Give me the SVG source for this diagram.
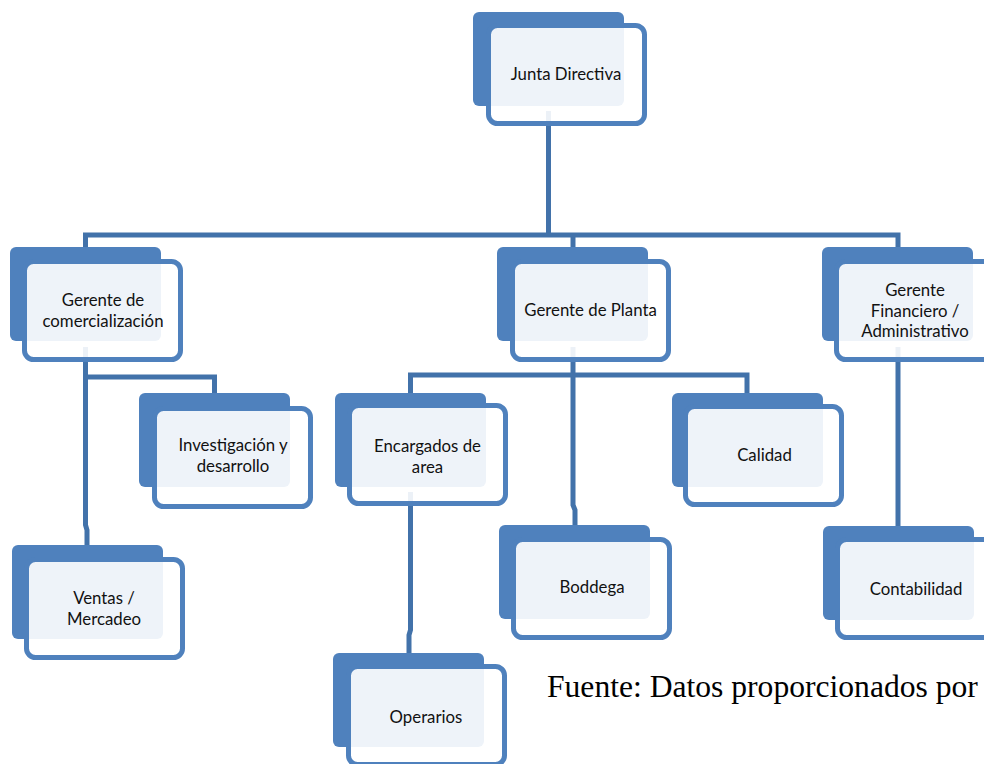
<svg xmlns="http://www.w3.org/2000/svg" width="984" height="764" viewBox="0 0 984 764">
<style>
.back{fill:#4F81BD}
.front{fill:#ffffff;fill-opacity:0.9;stroke:#4F81BD;stroke-width:5}
.lbl{font-family:Lato,"Open Sans",sans-serif;font-size:16.8px;fill:#111111;text-anchor:middle}
.con{fill:none;stroke:#4272AA;stroke-width:5;stroke-linejoin:miter}
</style>
<rect width="984" height="764" fill="#ffffff"/>
<g id="connectors">
<path class="con" d="M548.5 111 V235"/>
<path class="con" d="M85.5 247 V235 H898 V247"/>
<path class="con" d="M573 235 V247"/>
<path class="con" d="M85.5 347 V525 L87 530 V545"/>
<path class="con" d="M85.5 377 H214.5 V393"/>
<path class="con" d="M573 347 V505 L575 510 V525"/>
<path class="con" d="M410.5 393 V375 H747 V393"/>
<path class="con" d="M410.5 492 V630 L409 635 V653"/>
<path class="con" d="M898 347 V526"/>
</g>
<g id="junta">
<rect class="back" x="473" y="12" width="151" height="94" rx="6"/>
<rect class="front" x="488.5" y="25.5" width="156" height="98" rx="9"/>
<text class="lbl" x="566" y="80">Junta Directiva</text>
</g>
<g id="comercializacion">
<rect class="back" x="10" y="247" width="151" height="94" rx="6"/>
<rect class="front" x="24.5" y="261.5" width="156" height="98" rx="9"/>
<text class="lbl" x="103" y="306">Gerente de</text>
<text class="lbl" x="103" y="327">comercialización</text>
</g>
<g id="planta">
<rect class="back" x="497" y="247" width="151" height="94" rx="6"/>
<rect class="front" x="512.5" y="261.5" width="156" height="98" rx="9"/>
<text class="lbl" x="590.5" y="316">Gerente de Planta</text>
</g>
<g id="financiero">
<rect class="back" x="822" y="247" width="151" height="94" rx="6"/>
<rect class="front" x="836.5" y="261.5" width="156" height="98" rx="9"/>
<text class="lbl" x="915" y="296">Gerente</text>
<text class="lbl" x="915" y="317">Financiero /</text>
<text class="lbl" x="915" y="337">Administrativo</text>
</g>
<g id="investigacion">
<rect class="back" x="139" y="393" width="151" height="94" rx="6"/>
<rect class="front" x="154.5" y="408.5" width="156" height="98" rx="9"/>
<text class="lbl" x="233" y="451">Investigación y</text>
<text class="lbl" x="233" y="472">desarrollo</text>
</g>
<g id="encargados">
<rect class="back" x="335" y="393" width="151" height="94" rx="6"/>
<rect class="front" x="349.5" y="405.5" width="156" height="98" rx="9"/>
<text class="lbl" x="427.5" y="452">Encargados de</text>
<text class="lbl" x="427.5" y="473">area</text>
</g>
<g id="calidad">
<rect class="back" x="672" y="393" width="151" height="94" rx="6"/>
<rect class="front" x="685.5" y="406.5" width="156" height="98" rx="9"/>
<text class="lbl" x="764.5" y="461">Calidad</text>
</g>
<g id="ventas">
<rect class="back" x="12" y="545" width="151" height="94" rx="6"/>
<rect class="front" x="26.5" y="559.5" width="156" height="98" rx="9"/>
<text class="lbl" x="104" y="604">Ventas /</text>
<text class="lbl" x="104" y="625">Mercadeo</text>
</g>
<g id="operarios">
<rect class="back" x="333" y="653" width="151" height="94" rx="6"/>
<rect class="front" x="348.5" y="666.5" width="156" height="98" rx="9"/>
<text class="lbl" x="426" y="723">Operarios</text>
</g>
<g id="boddega">
<rect class="back" x="499" y="525" width="151" height="94" rx="6"/>
<rect class="front" x="513.5" y="539.5" width="156" height="98" rx="9"/>
<text class="lbl" x="592" y="593">Boddega</text>
</g>
<g id="contabilidad">
<rect class="back" x="823" y="526" width="151" height="94" rx="6"/>
<rect class="front" x="837.5" y="539.5" width="156" height="98" rx="9"/>
<text class="lbl" x="916" y="595">Contabilidad</text>
</g>
<text x="547" y="697" font-family="'Liberation Serif',serif" font-size="31.6" fill="#000000">Fuente: Datos proporcionados por</text>
</svg>
